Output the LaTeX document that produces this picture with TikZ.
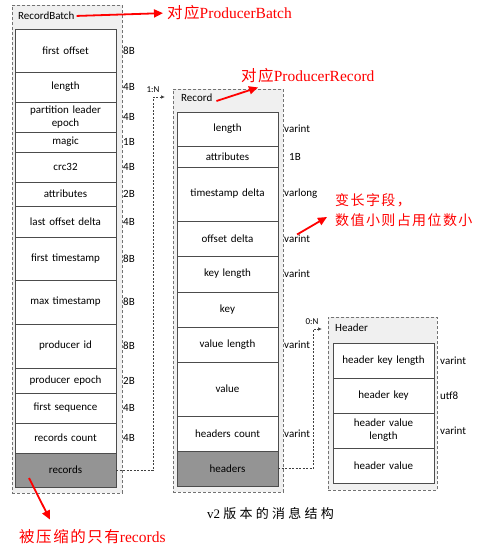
\documentclass[tikz,border=0pt]{standalone}
\usepackage{fontspec}
\setmainfont{Liberation Serif}
\newfontfamily\cjk[LetterSpace=10]{Noto Sans CJK SC}
\newfontfamily\cjkcap[LetterSpace=25]{Noto Sans CJK SC}
\newfontfamily\lab{Carlito}
\usepackage{tikz}
\usetikzlibrary{positioning,shadows,arrows.meta}
\tikzstyle{champ} = [rectangle, draw=black!70, fill=white, line width=0.9pt, minimum width=101pt, text width=97pt, text centered, inner sep=0pt, outer sep=0pt, anchor=north west, font=\lab\fontsize{11}{13}\selectfont, drop shadow={shadow xshift=0.8pt, shadow yshift=-0.8pt, opacity=0.6}]
\tikzstyle{gris} = [champ, fill=black!42]
\tikzstyle{cadre} = [rectangle, draw=black!55, dash pattern=on 3pt off 2pt, line width=0.7pt, fill=black!6, anchor=north west, inner sep=0pt]
\tikzstyle{titre} = [anchor=west, inner sep=0pt, font=\lab\fontsize{11}{12}\selectfont]
\tikzstyle{taille} = [inner sep=0pt, font=\lab\fontsize{11}{12}\selectfont]
\tikzstyle{lien} = [draw=black!75, dash pattern=on 2pt off 1.5pt, line width=0.7pt, -{Latex[length=4pt,width=3.5pt]}]
\tikzstyle{note} = [red, inner sep=0pt, font=\fontsize{15.5}{20}\selectfont]
\tikzstyle{fleche} = [red, line width=1.8pt, -{Triangle[length=9pt,width=8pt]}]

\begin{document}
\begin{tikzpicture}[x=1pt, y=-1pt]

        \useasboundingbox (0,0) rectangle (486,550);
        \fill[white] (0,0) rectangle (486,550);

        % RecordBatch
        \node (batch) [cadre, minimum width=110, minimum height=488] at (12,5) {};
        \node (tbatch) [titre] at (18,16) {RecordBatch};
        \node (fo) [champ, minimum height=43] at (15,29) {first offset};
        \node (len) [champ, minimum height=30] at (15,72) {length};
        \node (ple) [champ, minimum height=30] at (15,102) {partition leader\\epoch};
        \node (mag) [champ, minimum height=20] at (15,132) {magic};
        \node (crc) [champ, minimum height=30] at (15,152) {crc32};
        \node (att) [champ, minimum height=24] at (15,182) {attributes};
        \node (lod) [champ, minimum height=31] at (15,206) {last offset delta};
        \node (fts) [champ, minimum height=43] at (15,237) {first timestamp};
        \node (mts) [champ, minimum height=44] at (15,280) {max timestamp};
        \node (pid) [champ, minimum height=44] at (15,324) {producer id};
        \node (pep) [champ, minimum height=25] at (15,368) {producer epoch};
        \node (fsq) [champ, minimum height=30] at (15,393) {first sequence};
        \node (rct) [champ, minimum height=30] at (15,423) {records count};
        \node (recs) [gris, minimum height=34] at (15,453) {records};

        \node (s-fo) [taille, right=7pt of fo] {8B};
        \node (s-len) [taille, right=7pt of len] {4B};
        \node (s-ple) [taille, right=7pt of ple] {4B};
        \node (s-mag) [taille, right=7pt of mag] {1B};
        \node (s-crc) [taille, right=7pt of crc] {4B};
        \node (s-att) [taille, right=7pt of att] {2B};
        \node (s-lod) [taille, right=7pt of lod] {4B};
        \node (s-fts) [taille, right=7pt of fts] {8B};
        \node (s-mts) [taille, right=7pt of mts] {8B};
        \node (s-pid) [taille, right=7pt of pid] {8B};
        \node (s-pep) [taille, right=7pt of pep] {2B};
        \node (s-fsq) [taille, right=7pt of fsq] {4B};
        \node (s-rct) [taille, right=7pt of rct] {4B};

        % Record
        \node (rec) [cadre, minimum width=110, minimum height=403] at (173,89) {};
        \node (trec) [titre] at (181,98) {Record};
        \node (rlen) [champ, minimum height=34] at (177,112) {length};
        \node (ratt) [champ, minimum height=21] at (177,146) {attributes};
        \node (tsd) [champ, minimum height=54] at (177,167) {timestamp delta};
        \node (ofd) [champ, minimum height=35] at (177,221) {offset delta};
        \node (kln) [champ, minimum height=36] at (177,256) {key length};
        \node (key) [champ, minimum height=35] at (177,292) {key};
        \node (vln) [champ, minimum height=35] at (177,327) {value length};
        \node (val) [champ, minimum height=54] at (177,362) {value};
        \node (hct) [champ, minimum height=35] at (177,416) {headers count};
        \node (hdrs) [gris, minimum height=35] at (177,451) {headers};

        \node (t-rlen) [taille, right=6pt of rlen] {varint};
        \node (t-ratt) [taille, right=11pt of ratt] {1B};
        \node (t-tsd) [taille, right=6pt of tsd] {varlong};
        \node (t-ofd) [taille, right=6pt of ofd] {varint};
        \node (t-kln) [taille, right=6pt of kln] {varint};
        \node (t-vln) [taille, right=6pt of vln] {varint};
        \node (t-hct) [taille, right=6pt of hct] {varint};

        % Header
        \node (hdr) [cadre, minimum width=109, minimum height=173] at (328,317) {};
        \node (thdr) [titre] at (335,328) {Header};
        \node (hkl) [champ, minimum height=35] at (333,343) {header key length};
        \node (hk) [champ, minimum height=35] at (333,378) {header key};
        \node (hvl) [champ, minimum height=35] at (333,413) {header value\\length};
        \node (hv) [champ, minimum height=35] at (333,448) {header value};

        \node (t-hkl) [taille, right=6pt of hkl] {varint};
        \node (t-hk) [taille, right=6pt of hk] {utf8};
        \node (t-hvl) [taille, right=6pt of hvl] {varint};

        % liens 1:N et 0:N
        \coordinate (c1) at (153,97);
        \coordinate (e1) at (165,97);
        \draw [lien] (recs.east) -| (c1) -- (e1);
        \node (n1) [taille, font=\lab\fontsize{9}{10}\selectfont] at (153,90) {1:N};

        \coordinate (c2) at (313,329);
        \coordinate (e2) at (322,329);
        \draw [lien] (hdrs.east) -| (c2) -- (e2);
        \node (n2) [taille, font=\lab\fontsize{9}{10}\selectfont] at (312,322) {0:N};

        % notes
        \node (nbatch) [note, anchor=west] at (167,13) {{\cjk 对应}ProducerBatch};
        \node (nrec) [note, anchor=west] at (241,76) {{\cjk 对应}ProducerRecord};
        \node (nvar) [note, anchor=west, align=left, font=\cjk\fontsize{14}{20}\selectfont] at (335,210) {变长字段，\\数值小则占用位数小};
        \node (nzip) [note, anchor=west] at (19,537) {{\cjk 被压缩的只有}records};
        \node (cap) [anchor=west, inner sep=0pt, font=\fontsize{13}{14}\selectfont] at (207,514) {v2 {\cjkcap 版本的消息结构}};

        \draw [fleche, shorten <=2pt, shorten >=4pt] (tbatch.east) -- (nbatch.west);
        \draw [fleche] ([xshift=4pt,yshift=-3pt]trec.east) -- ([xshift=17pt,yshift=-4pt]nrec.south west);
        \draw [fleche] (t-ofd.north) -- ([xshift=-8pt,yshift=-7pt]nvar.west);
        \draw [fleche] ([xshift=14pt,yshift=9pt]recs.south west) -- ([xshift=31pt,yshift=10pt]nzip.north west);

\end{tikzpicture}
\end{document}
